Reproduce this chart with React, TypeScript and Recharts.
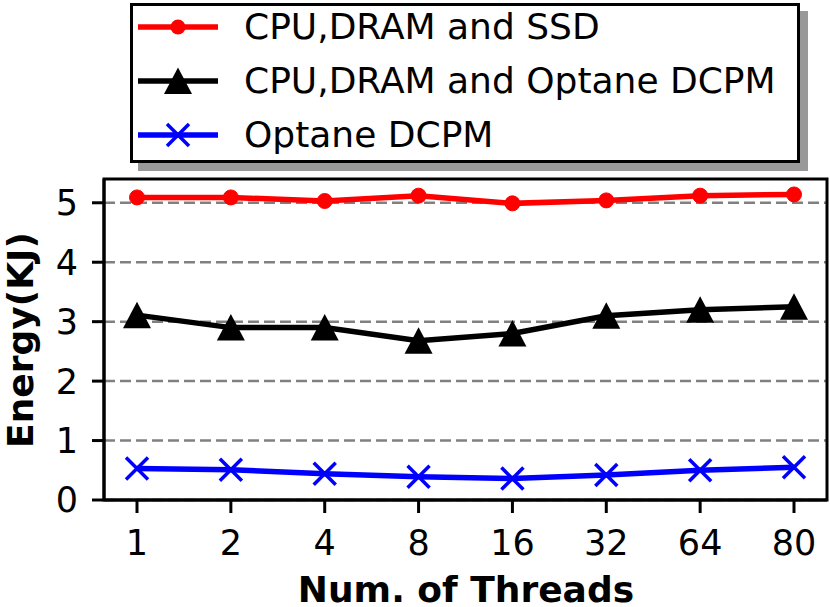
import { LineChart, Line, XAxis, YAxis, CartesianGrid, Label, usePlotArea } from 'recharts';

const threads = ['1', '2', '4', '8', '16', '32', '64', '80'];
const ssdEnergy = [5.09, 5.09, 5.03, 5.12, 4.99, 5.04, 5.12, 5.14];
const optaneHostEnergy = [3.11, 2.9, 2.9, 2.68, 2.8, 3.1, 3.2, 3.25];
const optaneEnergy = [0.53, 0.51, 0.44, 0.39, 0.36, 0.42, 0.5, 0.55];
const yTicks = [0, 1, 2, 3, 4, 5];

const data = threads.map((t, i) => ({
  t,
  ssd: ssdEnergy[i],
  host: optaneHostEnergy[i],
  optane: optaneEnergy[i],
}));

const FONT = '"DejaVu Sans", sans-serif';
const LINE_W = 5.5;

const Triangle = (props: any) => {
  const { cx, cy, key } = props;
  if (cx == null || cy == null) return null;
  return (
    <polygon
      key={key}
      points={`${cx},${cy - 13.5} ${cx - 14},${cy + 13} ${cx + 14},${cy + 13}`}
      fill="#000"
    />
  );
};

const Cross = (props: any) => {
  const { cx, cy, key } = props;
  if (cx == null || cy == null) return null;
  const s = 11;
  return (
    <path
      key={key}
      d={`M${cx - s},${cy - s}L${cx + s},${cy + s}M${cx - s},${cy + s}L${cx + s},${cy - s}`}
      stroke="#0000ff"
      strokeWidth={3.5}
      fill="none"
    />
  );
};

// box round the plot area, like the matplotlib spines
function Frame() {
  const area = usePlotArea();
  if (!area) return null;
  return (
    <rect
      x={area.x}
      y={area.y}
      width={area.width}
      height={area.height}
      fill="none"
      stroke="#000"
      strokeWidth={3}
    />
  );
}

const legendRows = [
  { name: 'CPU,DRAM and SSD', color: '#ff0000', marker: 'circle' },
  { name: 'CPU,DRAM and Optane DCPM', color: '#000000', marker: 'triangle' },
  { name: 'Optane DCPM', color: '#0000ff', marker: 'cross' },
];

function LegendIcon({ color, marker }: { color: string; marker: string }) {
  return (
    <svg width={84} height={30} style={{ display: 'block', overflow: 'visible' }}>
      <line x1={2} y1={15} x2={82} y2={15} stroke={color} strokeWidth={LINE_W} />
      {marker === 'circle' && <circle cx={42} cy={15} r={7.5} fill={color} />}
      {marker === 'triangle' && <Triangle cx={42} cy={15} />}
      {marker === 'cross' && <Cross cx={42} cy={15} />}
    </svg>
  );
}

export default function App() {
  return (
    <div style={{ position: 'absolute', left: 0, top: 0, width: 830, height: 607, background: '#fff', fontFamily: FONT }}>
      <LineChart
        width={830}
        height={607}
        data={data}
        margin={{ top: 179, right: 3, bottom: 0, left: 0 }}
      >
        <CartesianGrid
          horizontal
          vertical={false}
          syncWithTicks
          stroke="#808080"
          strokeWidth={2.5}
          strokeDasharray="11 5"
        />
        <XAxis
          dataKey="t"
          height={107}
          padding={{ left: 33, right: 33 }}
          stroke="#000"
          strokeWidth={3}
          tickSize={13}
          tickMargin={17}
          tick={{ fill: '#000', fontSize: 35, fontFamily: FONT }}
          interval={0}
        >
          <Label
            content={() => (
              <text x={466} y={602} textAnchor="middle" fontSize={36} fontWeight="bold" fontFamily={FONT} fill="#000">
                Num. of Threads
              </text>
            )}
          />
        </XAxis>
        <YAxis
          width={104}
          domain={[0, 5.4]}
          ticks={yTicks}
          stroke="#000"
          strokeWidth={3}
          tickSize={12}
          tickMargin={14}
          tick={{ fill: '#000', fontSize: 35, fontFamily: FONT }}
        >
          <Label
            content={() => (
              <text
                x={33}
                y={340}
                transform="rotate(-90 33 340)"
                textAnchor="middle"
                fontSize={36}
                fontWeight="bold"
                fontFamily={FONT}
                fill="#000"
              >
                Energy(KJ)
              </text>
            )}
          />
        </YAxis>
        <Line
          dataKey="ssd"
          stroke="#ff0000"
          strokeWidth={LINE_W}
          dot={{ r: 7.5, fill: '#ff0000', stroke: '#ff0000', strokeWidth: 1 }}
          isAnimationActive={false}
        />
        <Line
          dataKey="host"
          stroke="#000000"
          strokeWidth={LINE_W}
          dot={Triangle}
          isAnimationActive={false}
        />
        <Line
          dataKey="optane"
          stroke="#0000ff"
          strokeWidth={LINE_W}
          dot={Cross}
          isAnimationActive={false}
        />
        <Frame />
      </LineChart>
      <div
        style={{
          position: 'absolute',
          left: 130,
          top: 3,
          width: 664,
          height: 154,
          border: '3px solid #000',
          background: '#fff',
          boxShadow: '8px 8px 0 #999',
          boxSizing: 'content-box',
        }}
      >
        {legendRows.map((r, i) => (
          <div
            key={r.name}
            style={{ position: 'absolute', left: 3, top: 1 + i * 54, height: 40, display: 'flex', alignItems: 'center' }}
          >
            <LegendIcon color={r.color} marker={r.marker} />
            <span style={{ marginLeft: 24, fontSize: 36, lineHeight: '40px', color: '#000', whiteSpace: 'nowrap' }}>{r.name}</span>
          </div>
        ))}
      </div>
    </div>
  );
}
